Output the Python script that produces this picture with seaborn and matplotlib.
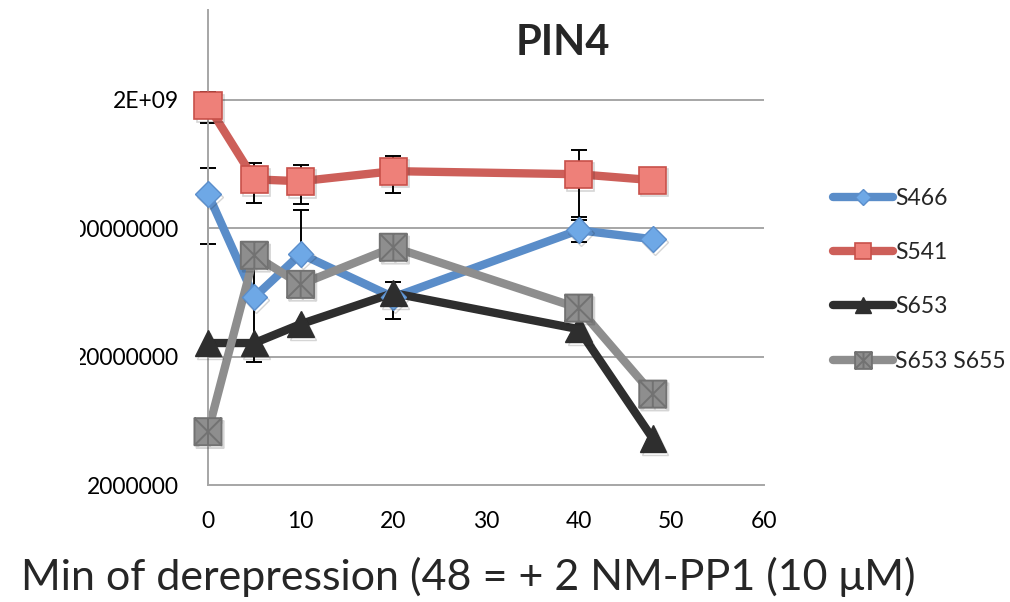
import numpy as np
import matplotlib
matplotlib.use("Agg")
import matplotlib.pyplot as plt
import matplotlib.patheffects as pe
import seaborn as sns
from matplotlib.path import Path
from matplotlib.lines import Line2D
from matplotlib.legend_handler import HandlerTuple
from matplotlib.transforms import Bbox, TransformedBbox
from matplotlib.ticker import NullLocator

# ---------------- data ----------------
minutes = [0, 5, 10, 20, 40, 48]
s466 = [3.7e8, 5.8e7, 1.26e8, 5.8e7, 1.93e8, 1.64e8]
s466_err_low = [2.2e8, 4.0e7, 0.0, 1.85e7, 3.8e7, 8e6]
s466_err_up = [2.2e8, 4.0e7, 1.5e8, 1.85e7, 3.8e7, 8e6]
s541 = [1.81e9, 4.8e8, 4.64e8, 5.56e8, 5.26e8, 4.73e8]
s541_err = [5.0e8, 1.65e8, 1.55e8, 1.8e8, 2.8e8, 0.0]
s653 = [2.55e7, 2.55e7, 3.58e7, 6.24e7, 3.27e7, 4.6e6]
s653_s655 = [5.2e6, 1.23e8, 7.3e7, 1.42e8, 4.77e7, 1.02e7]

series_names = ["S466", "S541", "S653", "S653 S655"]
ytick_vals = [2e6, 2e7, 2e8, 2e9]
ytick_labels = ["2000000", "20000000", "200000000", "2E+09"]
xtick_vals = [0, 10, 20, 30, 40, 50, 60]
title = "PIN4"
xlabel = "Min of derepression (48 = + 2 NM-PP1 (10 μM)"

# ---------------- style ----------------
sns.set_theme(style="white")
plt.rcParams["font.family"] = ["Lato", "DejaVu Sans"]

W, H = 1010, 602
fig = plt.figure(figsize=(W / 100, H / 100), dpi=100)
ax = fig.add_axes([208 / W, 1 - 485 / H, (764 - 208) / W, (485 - 10) / H])
ax.set_yscale("log")
ax.set_xlim(0, 60)
ax.set_ylim(2e6, 1e10)

grid_c = "#A6A6A6"
for y in ytick_vals[1:]:
    ax.axhline(y, color=grid_c, lw=1.4, zorder=0.5)

# custom star-in-square marker
verts = [(-1, -1), (1, -1), (1, 1), (-1, 1), (-1, -1),
         (-1, -1), (1, 1), (-1, 1), (1, -1), (0, -1), (0, 1)]
codes = [Path.MOVETO, Path.LINETO, Path.LINETO, Path.LINETO, Path.CLOSEPOLY,
         Path.MOVETO, Path.LINETO, Path.MOVETO, Path.LINETO, Path.MOVETO, Path.LINETO]
star_sq = Path(verts, codes)

colors = {
    "S466": "#5A8DC9",
    "S541": "#CD5F59",
    "S653": "#2E2E2E",
    "S653 S655": "#8E8E8E",
}
values = {"S466": s466, "S541": s541, "S653": s653, "S653 S655": s653_s655}
mk = {
    "S466": dict(marker="D", ms=13, mfc="#6EA8E6", mec="#5B8ECB", mew=1),
    "S541": dict(marker="s", ms=19.5, mfc="#EE8079", mec="#C8504A", mew=1.2),
    "S653": dict(marker="^", ms=19, mfc="#2E2E2E", mec="#2E2E2E", mew=1),
    "S653 S655": dict(marker=star_sq, ms=19.5, mfc="#8E8E8E", mec="#727272", mew=1.4),
}
shadow = [pe.SimpleLineShadow(offset=(1.5, -2), shadow_color="k", alpha=0.18),
          pe.Normal()]

# error bars (behind markers)
ax.errorbar(minutes, s466, yerr=[s466_err_low, s466_err_up], fmt="none",
            ecolor="black", elinewidth=1.4, capsize=6, capthick=1.4,
            zorder=1.5, clip_on=False)
ax.errorbar(minutes, s541, yerr=[s541_err, s541_err], fmt="none",
            ecolor="black", elinewidth=1.4, capsize=6, capthick=1.4,
            zorder=1.5, clip_on=False)

# lines via seaborn
for name in series_names:
    sns.lineplot(x=minutes, y=values[name], ax=ax, color=colors[name],
                 linewidth=6, estimator=None, sort=False, zorder=2,
                 solid_capstyle="round", solid_joinstyle="round",
                 clip_on=False, legend=False)

# markers
for name in series_names:
    ax.plot(minutes, values[name], linestyle="none", zorder=3, clip_on=False,
            path_effects=shadow, **mk[name])

# axes styling
sns.despine(ax=ax, top=True, right=True)
for sp in ["left", "bottom"]:
    ax.spines[sp].set_color(grid_c)
    ax.spines[sp].set_linewidth(1.4)
ax.set_xticks(xtick_vals)
ax.set_yticks(ytick_vals, labels=ytick_labels)
ax.yaxis.set_minor_locator(NullLocator())
ax.tick_params(axis="both", which="major", direction="out", color=grid_c,
               width=1.4, length=7, labelsize=16.5, labelcolor="black")
ax.tick_params(axis="y", pad=14)
ax.tick_params(axis="x", pad=12)
ax.set_xlabel("")
ax.set_ylabel("")

clipbb = TransformedBbox(Bbox([[80 / W, 0], [1, 1]]), fig.transFigure)
for t in ax.yaxis.get_major_ticks():
    t.label1.set_clip_on(True)
    t.label1.set_clip_box(clipbb)

fig.text(563 / W, 1 - 43 / H, title, ha="center", va="center",
         fontsize=30, fontweight="bold")
fig.text(468 / W, 1 - 577 / H, xlabel, ha="center", va="center", fontsize=31)

# legend
handles = []
for name in series_names:
    base = Line2D([], [], color=colors[name], lw=6, solid_capstyle="round")
    m = dict(mk[name])
    m["ms"] = m["ms"] * 0.62
    mark = Line2D([], [], linestyle="none", **m)
    handles.append((base, mark))
fig.legend(handles, series_names, handler_map={tuple: HandlerTuple(ndivide=1, pad=0)},
           loc="upper left", bbox_to_anchor=(833 / W, 1 - 188 / H),
           frameon=False, fontsize=16.5, handlelength=2.6, handletextpad=0.12,
           labelspacing=1.45, borderpad=0, borderaxespad=0)

fig.savefig("out.png", dpi=100)
